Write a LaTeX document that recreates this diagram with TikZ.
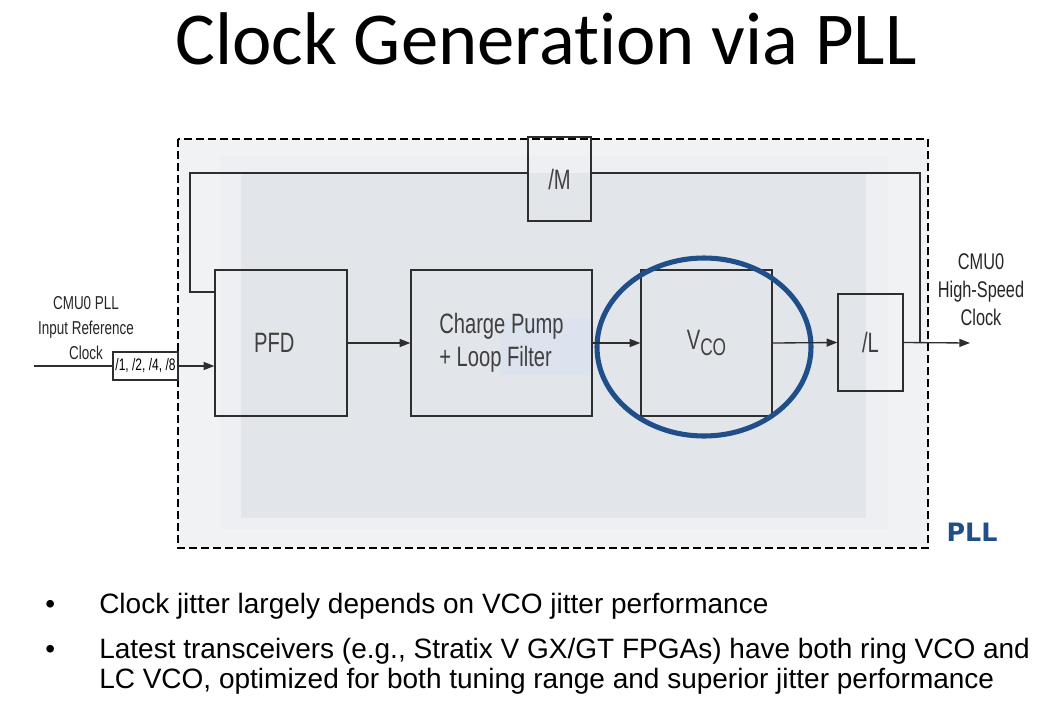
\documentclass[tikz,border=0pt]{standalone}
\usepackage{fontspec}
\usepackage{tikz}
\usetikzlibrary{arrows.meta}
\setmainfont{Liberation Sans}
\newfontfamily\titlefont[Ligatures=NoCommon]{Carlito}
\newfontfamily\narrowfont[FakeStretch=0.72]{Liberation Sans}
\newfontfamily\tagfont{DejaVu Sans}
\definecolor{pllouter}{HTML}{F1F2F4}
\definecolor{pllband}{HTML}{EDEFF2}
\definecolor{pllinner}{HTML}{E2E5EA}
\definecolor{pllspot}{HTML}{DCE3EE}
\definecolor{pllblue}{HTML}{1F4E88}
\definecolor{wire}{HTML}{2E2E2E}
\begin{document}
\begin{tikzpicture}[x=0.75pt, y=-0.75pt,
    blk/.style={draw=wire, line width=1pt, inner sep=0pt, text=black!75,
      font=\narrowfont\fontsize{21}{25}\selectfont},
    lbl/.style={align=center, text=black!85, font=\narrowfont\fontsize{14}{19}\selectfont},
    sig/.style={draw=wire, line width=1pt, -{Triangle[length=8pt, width=6pt]}},
    bul/.style={anchor=base west, inner sep=0pt, font=\fontsize{21}{25}\selectfont}]
        \useasboundingbox (0,0) rectangle (1053,708);

        % Title
        \node[anchor=base, font=\titlefont\fontsize{56}{60}\selectfont] (title) at (546,64) {Clock Generation via PLL};

        % Shaded PLL region
        \fill[pllouter] (178,139) rectangle (928,548);
        \fill[pllband] (220,156) rectangle (888,529);
        \fill[pllinner] (241,173) rectangle (866,518);
        \fill[pllspot] (500,318) rectangle (593,375);
        \draw[line width=1.3pt, dash pattern=on 6pt off 3pt] (178,139) rectangle (928,548);
        \node[anchor=base, font=\tagfont\bfseries\fontsize{19}{22}\selectfont, text=pllblue] (plltag) at (972,541) {PLL};

        % Blocks of the loop
        \node[blk, minimum width=99pt, minimum height=109.5pt] (pfd) at (281,343) {PFD\hspace*{10pt}};
        \node[blk, minimum width=135.75pt, minimum height=109.5pt, align=left] (cp) at (501.5,343) {Charge Pump\\+ Loop Filter};
        \node[blk, minimum width=98.25pt, minimum height=109.5pt] (vco) at (706.5,343) {V\raisebox{-0.45ex}{\fontsize{18}{18}\selectfont CO}};
        \node[blk, minimum width=48.75pt, minimum height=72.75pt] (divl) at (870.5,342.5) {/L};
        \node[blk, minimum width=47.25pt, minimum height=63pt] (divm) at (559.5,179) {/M};
        \node[blk, minimum width=48.75pt, minimum height=21pt, text=black, fill=white,
          font=\narrowfont\fontsize{12.5}{13}\selectfont] (divn) at (145.5,366) {/1, /2, /4, /8};

        % Highlight of the VCO
        \draw[pllblue, line width=3.8pt] (704,347) ellipse [x radius=107, y radius=89];

        % Input and output labels
        \node[lbl] (inlbl) at (86,328) {CMU0 PLL\\Input Reference\\Clock};
        \node[lbl, font=\narrowfont\fontsize{17}{21}\selectfont] (outlbl) at (981,290) {CMU0\\High-Speed\\Clock};

        % Signal path
        \coordinate (refin) at (34,366);
        \coordinate (hsout) at (970,343);
        \draw[draw=wire, line width=1pt] (refin) -- (divn.west);
        \draw[sig] (divn.east) -- (divn.east -| pfd.west);
        \draw[sig] (pfd.east) -- (cp.west);
        \draw[sig] (cp.east) -- (vco.west);
        \draw[sig] (vco.east) -- (divl.west);
        \draw[sig] (divl.east) -- (hsout);

        % Feedback through /M
        \coordinate (fbin) at (215,292);
        \coordinate (fbleft) at (190,173);
        \coordinate (fbright) at (920,173);
        \draw[draw=wire, line width=1pt] (fbin) -- (fbin -| fbleft) -- (fbleft) -- (fbleft -| divm.west);
        \draw[draw=wire, line width=1pt] (fbright -| divm.east) -- (fbright) -- (fbright |- divl.east);

        % Bullet points
        \node[bul] (b1) at (45,613) {\textbullet};
        \node[bul] (t1) at (99,613) {Clock jitter largely depends on VCO jitter performance};
        \node[bul] (b2) at (45,658) {\textbullet};
        \node[bul] (t2) at (99,658) {Latest transceivers (e.g., Stratix V GX/GT FPGAs) have both ring VCO and};
        \node[bul] (t3) at (99,688) {LC VCO, optimized for both tuning range and superior jitter performance};
\end{tikzpicture}
\end{document}
